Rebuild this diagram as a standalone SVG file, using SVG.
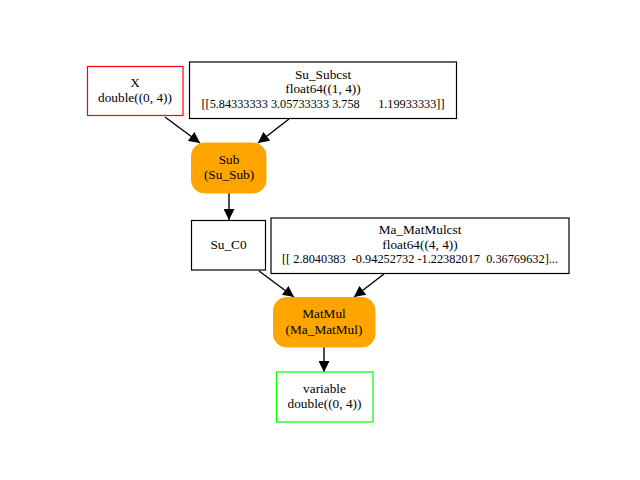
<svg xmlns="http://www.w3.org/2000/svg" width="640" height="480" viewBox="0 0 640 480">
<defs>
<style>
text{font-family:"Liberation Serif","Times New Roman",serif;font-size:13.3px;fill:#000;text-anchor:middle}
.box{fill:#fff;stroke:#000;stroke-width:1.2}
.op{fill:#ffa500;stroke:#ffa500}
.edge{stroke:#000;stroke-width:1.4;fill:none}
</style>
<marker id="ah" viewBox="0 0 10 10" refX="10" refY="5" markerWidth="12" markerHeight="11" markerUnits="userSpaceOnUse" orient="auto">
<path d="M0,0 L10,5 L0,10 z" fill="#000"/>
</marker>
</defs>
<rect width="640" height="480" fill="#fff"/>
<g id="edges">
<line class="edge" x1="165" y1="117" x2="200" y2="143" marker-end="url(#ah)"/>
<line class="edge" x1="289" y1="119" x2="258" y2="143" marker-end="url(#ah)"/>
<line class="edge" x1="229" y1="193" x2="229" y2="220" marker-end="url(#ah)"/>
<line class="edge" x1="259" y1="271" x2="294" y2="297" marker-end="url(#ah)"/>
<line class="edge" x1="384" y1="274" x2="354" y2="297" marker-end="url(#ah)"/>
<line class="edge" x1="324" y1="347" x2="324" y2="372" marker-end="url(#ah)"/>
</g>
<g id="X">
<rect class="box" x="87.5" y="66.5" width="95.5" height="49" style="stroke:#ff0000"/>
<text x="135" y="87">X</text>
<text x="135" y="101.5">double((0, 4))</text>
</g>
<g id="Su_Subcst">
<rect class="box" x="189.5" y="62" width="267" height="56.5"/>
<text x="323" y="79">Su_Subcst</text>
<text x="323" y="93">float64((1, 4))</text>
<text x="323" y="107.5" xml:space="preserve" textLength="243" lengthAdjust="spacingAndGlyphs">[[5.84333333 3.05733333 3.758      1.19933333]]</text>
</g>
<g id="Sub">
<rect class="op" x="191.5" y="143" width="74.5" height="50" rx="13"/>
<text x="229" y="164">Sub</text>
<text x="229" y="179">(Su_Sub)</text>
</g>
<g id="Su_C0">
<rect class="box" x="191.5" y="220.5" width="74" height="49.5"/>
<text x="228.5" y="249">Su_C0</text>
</g>
<g id="Ma_MatMulcst">
<rect class="box" x="271" y="218" width="298" height="55.5"/>
<text x="420" y="234">Ma_MatMulcst</text>
<text x="420" y="248.5">float64((4, 4))</text>
<text x="420" y="263" xml:space="preserve" textLength="276" lengthAdjust="spacingAndGlyphs">[[ 2.8040383  -0.94252732 -1.22382017  0.36769632]...</text>
</g>
<g id="MatMul">
<rect class="op" x="273.5" y="297.5" width="101.5" height="49.5" rx="13"/>
<text x="324" y="318">MatMul</text>
<text x="324" y="333.5">(Ma_MatMul)</text>
</g>
<g id="variable">
<rect class="box" x="276.5" y="372" width="96.5" height="50" style="stroke:#00ff00"/>
<text x="324.5" y="393">variable</text>
<text x="324.5" y="408">double((0, 4))</text>
</g>
</svg>
